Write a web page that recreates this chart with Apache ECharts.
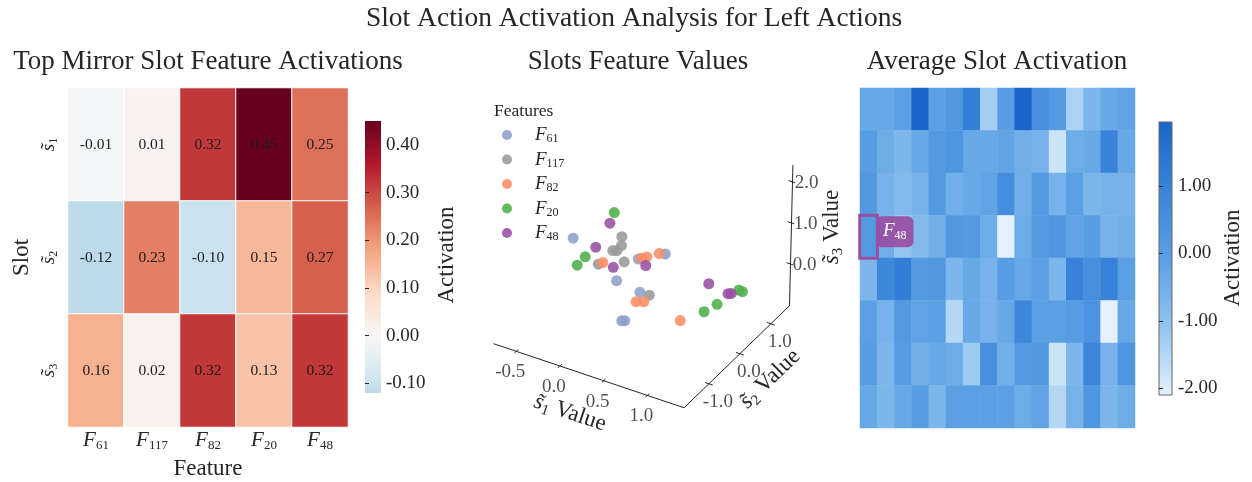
<!DOCTYPE html>
<html>
<head>
<meta charset="utf-8">
<script src="https://cdn.jsdelivr.net/npm/echarts@6/dist/echarts.min.js"></script>
<style>
  html, body { margin: 0; padding: 0; background: #fff; }
  #chart { width: 1252px; height: 482px; }
</style>
</head>
<body>
<div id="chart"></div>
<script>
// ---------- data ----------
// Mirror-slot heatmap: feature ids (shown as F subscripts) and slot indices
const featureIds = ['61', '117', '82', '20', '48'];
const slotIds = ['1', '2', '3'];
const slot1Act = [-0.01, 0.01, 0.32, 0.45, 0.25];
const slot2Act = [-0.12, 0.23, -0.10, 0.15, 0.27];
const slot3Act = [0.16, 0.02, 0.32, 0.13, 0.32];
const mirrorTicks = [-0.1, 0.0, 0.1, 0.2, 0.3, 0.4];

// Slot-space points (s1, s2, s3) per feature
const ptsF61 = [[-0.37, -0.39, 0.8], [0.19, 0.15, 0.3], [0.48, 0.19, 0.6], [0.09, -0.26, 0.0], [0.32, -0.15, -0.2], [0.31, -0.70, -0.5], [0.30, -0.57, -0.6]];
const ptsF117 = [[0.10, -0.15, 1.0], [0.07, -0.07, 0.7], [-0.03, -0.06, 0.5], [0.04, -0.13, 0.6], [-0.14, -0.21, 0.2], [0.13, -0.14, 0.4], [0.39, -0.04, -0.3]];
const ptsF82 = [[-0.15, -0.03, 0.1], [0.28, -0.01, 0.5], [0.28, 0.17, 0.4], [0.46, 0.05, 0.7], [0.30, -0.21, -0.4], [0.40, -0.25, -0.3], [0.70, 0.10, -0.8]];
const ptsF20 = [[0.00, -0.13, 1.5], [-0.28, -0.24, 0.3], [-0.31, -0.41, 0.2], [0.93, 0.21, -0.5], [1.01, 0.40, -0.4], [1.14, 0.73, -0.2], [1.15, 0.82, -0.3]];
const ptsF48 = [[-0.05, -0.12, 1.2], [-0.17, -0.22, 0.6], [-0.02, -0.06, 0.1], [0.31, 0.05, 0.3], [0.90, 0.43, 0.0], [1.08, 0.55, -0.2], [1.14, 0.48, -0.1]];
const s1Ticks = [-0.5, 0.0, 0.5, 1.0];
const s2Ticks = [-1.0, 0.0, 1.0];
const s3Ticks = [0.0, 1.0, 2.0];

// Average slot activation grid (8 rows x 16 columns)
const avgActivation = [
  [-0.3, -0.3, -0.1, 1.9, -0.1, 0.2, 1.1, -1.3, 0.0, 1.9, 0.5, 0.1, -1.4, -0.7, -0.3, -0.2],
  [0.0, -0.4, -0.7, -0.3, 0.1, 0.3, -0.3, -0.3, -0.2, -0.5, -0.6, -1.8, -0.4, -0.3, 1.0, -0.3],
  [0.2, -0.6, -0.8, -0.6, 0.1, -0.5, -0.3, -0.2, 0.6, -0.5, 0.1, -0.6, -0.1, -0.7, -0.6, -0.6],
  [0.1, -0.5, -1.1, -0.8, -0.5, 0.2, 0.1, -0.4, -2.1, -0.4, 0.1, 0.3, -0.2, 0.0, -0.6, -0.5],
  [-0.7, 0.8, 1.2, 0.1, 0.2, -0.7, -0.3, -0.6, 0.0, -0.3, -0.1, -0.7, 1.0, 0.5, 1.0, -0.1],
  [-0.1, -0.6, 0.1, -0.2, -0.1, -1.5, -0.3, -0.6, -0.3, 0.8, -0.1, -0.1, 0.0, 0.4, -2.1, -0.3],
  [0.0, -0.7, 0.0, -0.5, -0.3, -0.4, -1.2, 0.5, -0.5, 0.1, 0.2, -1.8, -0.7, 0.9, -0.6, 0.3],
  [-0.3, -0.7, -0.3, 0.0, -0.7, -0.1, -0.1, -0.1, -0.1, -0.4, -0.2, -1.5, -0.6, 0.3, -0.7, -0.4]
];
const avgTicks = [-2, -1, 0, 1];
const highlightCell = { row: 3, col: 0, feature: '48' };

// ---------- styling / layout ----------
const FONT = 'Liberation Serif';
const INK = '#262626';
const L1 = { left: 68, top: 88, width: 280, height: 339 };     // mirror heatmap
const CB1 = { left: 365, top: 121, width: 16, height: 272 };   // its colorbar
const L3 = { left: 860, top: 88, width: 275, height: 340 };    // average heatmap
const CB3 = { left: 1159, top: 122, width: 13, height: 273 };  // its colorbar
const RANGE1 = [-0.12, 0.45];
const RANGE3 = [-2.1, 1.95];
const MAIN_TITLE_SIZE = 27.5;
const TITLE_SIZE = 27;
const LABEL_SIZE = 23;

// diverging red-blue ramp (reversed), centred on zero
const RDBU_R = ['#053061', '#2166ac', '#4393c3', '#92c5de', '#d1e5f0', '#f7f7f7', '#fddbc7', '#f4a582', '#d6604d', '#b2182b', '#67001f'];
const BLUE_RAMP = ['#e4f1fc', '#93c5ef', '#5a9fe3', '#3a85da', '#1b64c9'];

function hexToRgb(h) { const n = parseInt(h.slice(1), 16); return [(n >> 16) & 255, (n >> 8) & 255, n & 255]; }
function rampColor(ramp, t) {
  t = Math.max(0, Math.min(1, t));
  const f = t * (ramp.length - 1), i = Math.min(Math.floor(f), ramp.length - 2), u = f - i;
  const a = hexToRgb(ramp[i]), b = hexToRgb(ramp[i + 1]);
  const c = a.map((v, k) => Math.round(v + (b[k] - v) * u));
  return `rgb(${c[0]},${c[1]},${c[2]})`;
}
// sample N colours evenly over [min,max]; the red-blue map is symmetric about 0 (vmax = 0.45)
const N = 40;
const redBlueColors = [], blueColors = [];
for (let i = 0; i < N; i++) {
  const v = RANGE1[0] + (RANGE1[1] - RANGE1[0]) * i / (N - 1);
  redBlueColors.push(rampColor(RDBU_R, 0.5 + v / 0.9));
  blueColors.push(rampColor(BLUE_RAMP, i / (N - 1)));
}
function gradientStops(colors) { return colors.map((c, i) => ({ offset: i / (colors.length - 1), color: c })); }

// oblique projection of slot space onto the page (axis limits and basis vectors)
const S1 = [-0.76, 1.42], S2 = [-1.8, 1.6], S3 = [-1.02, 2.41];
const P3 = { ox: 616.8, oy: 270.2, a: [87.4, 29.4], b: [31, -30], c: [1, -41] };
function proj(p) {
  return [P3.ox + P3.a[0] * p[0] + P3.b[0] * p[1] + P3.c[0] * p[2],
          P3.oy + P3.a[1] * p[0] + P3.b[1] * p[1] + P3.c[1] * p[2]];
}

// ---------- series data ----------
const mirrorRows = [slot1Act, slot2Act, slot3Act];
const mirrorData = [];
mirrorRows.forEach((row, r) => row.forEach((v, c) => mirrorData.push([c, r, v])));

const avgData = [];
let hiItem = null;
avgActivation.forEach((row, r) => row.forEach((v, c) => {
  if (r === highlightCell.row && c === highlightCell.col) {
    hiItem = {
      value: [c, r, v],
      itemStyle: { borderColor: '#9b4fa3', borderWidth: 3 },
      label: {
        show: true, position: 'right', distance: -3, offset: [0, -5],
        backgroundColor: 'rgba(152,78,163,0.92)', borderRadius: 6, padding: [4, 7, 5, 7],
        formatter: `{f|F}{n|${highlightCell.feature}}`,
        rich: {
          f: { fontFamily: FONT, fontStyle: 'italic', fontSize: 19, color: '#fff', lineHeight: 22 },
          n: { fontFamily: FONT, fontSize: 12, color: '#fff', lineHeight: 12, padding: [9, 0, 0, 0] }
        }
      }
    };
  } else avgData.push([c, r, v]);
}));
avgData.push(hiItem);

const scatterSets = [
  { name: 'F61', pts: ptsF61, color: '#8da0cb' },
  { name: 'F117', pts: ptsF117, color: '#999999' },
  { name: 'F82', pts: ptsF82, color: '#fc8d62' },
  { name: 'F20', pts: ptsF20, color: '#4daf4a' },
  { name: 'F48', pts: ptsF48, color: '#984ea3' }
];

// 3D box axes: s1 front edge, s2 right edge, s3 vertical edge
const axisPath = [proj([S1[0], S2[0], S3[0]]), proj([S1[1], S2[0], S3[0]]), proj([S1[1], S2[1], S3[0]]), proj([S1[1], S2[1], S3[1]])];
const tickSegs = [];
const tickLabels = [];
s1Ticks.forEach(t => {
  tickSegs.push({ coords: [proj([t, S2[0] - 0.06, S3[0]]), proj([t, S2[0] + 0.06, S3[0]])] });
  tickLabels.push({ value: proj([t, S2[0], S3[0]]), name: t.toFixed(1), label: { offset: [-6, 21] } });
});
s2Ticks.forEach(t => {
  tickSegs.push({ coords: [proj([S1[1] - 0.045, t, S3[0]]), proj([S1[1] + 0.045, t, S3[0]])] });
  tickLabels.push({ value: proj([S1[1], t, S3[0]]), name: t.toFixed(1), label: { offset: [9, 18] } });
});
s3Ticks.forEach(t => {
  tickSegs.push({ coords: [proj([S1[1] - 0.045, S2[1], t]), proj([S1[1] + 0.03, S2[1], t])] });
  tickLabels.push({ value: proj([S1[1], S2[1], t]), name: t.toFixed(1), label: { offset: [14, 1] } });
});

// ---------- shared text styles ----------
const subRich = (size, sub) => ({
  f: { fontFamily: FONT, fontStyle: 'italic', fontSize: size, color: INK, lineHeight: size + 4 },
  n: { fontFamily: FONT, fontSize: sub, color: INK, lineHeight: sub, padding: [Math.round(size * 0.5), 0, 0, 0] },
  v: { fontFamily: FONT, fontSize: size, color: INK, lineHeight: size + 4 }
});

function text(x, y, str, size, rot, align) {
  return {
    type: 'text', x, y, rotation: rot || 0, silent: true,
    style: { text: str, fontFamily: FONT, fontSize: size, fill: INK, align: align || 'center', verticalAlign: 'middle' }
  };
}
function richText(x, y, str, size, sub, rot) {
  return {
    type: 'text', x, y, rotation: rot || 0, silent: true,
    style: { text: str, fill: INK, align: 'center', verticalAlign: 'middle', rich: subRich(size, sub) }
  };
}
const fixedGrid = g => Object.assign({ outerBoundsMode: 'none', containLabel: false }, g);

const chart = echarts.init(document.getElementById('chart'), null, { renderer: 'canvas' });
chart.setOption({
  backgroundColor: '#fff',
  animation: false,
  textStyle: { fontFamily: FONT, color: INK },
  grid: [
    fixedGrid(L1),
    fixedGrid(CB1),
    fixedGrid({ left: 0, top: 0, width: 1252, height: 482 }),
    fixedGrid(L3),
    fixedGrid(CB3)
  ],
  xAxis: [
    {
      gridIndex: 0, type: 'category', data: featureIds,
      axisLine: { show: false }, axisTick: { show: false }, splitLine: { show: false },
      axisLabel: { interval: 0, margin: 1, formatter: v => `{f|F}{n|${v}}`, rich: subRich(21, 13) },
      name: 'Feature', nameLocation: 'middle', nameGap: 26,
      nameTextStyle: { fontFamily: FONT, fontSize: LABEL_SIZE, color: INK }
    },
    { gridIndex: 1, type: 'value', show: false, min: 0, max: 1 },
    { gridIndex: 2, type: 'value', show: false, min: 0, max: 1252 },
    { gridIndex: 3, type: 'category', data: avgActivation[0].map((_, i) => i), show: false },
    { gridIndex: 4, type: 'value', show: false, min: 0, max: 1 }
  ],
  yAxis: [
    {
      gridIndex: 0, type: 'category', data: slotIds, inverse: true,
      axisLine: { show: false }, axisTick: { show: false }, splitLine: { show: false },
      axisLabel: {
        interval: 0, rotate: 90, margin: 8, formatter: v => `{f|s\u0303}{n|${v}}`, rich: subRich(19, 12)
      },
      name: 'Slot', nameLocation: 'middle', nameGap: 35,
      nameTextStyle: { fontFamily: FONT, fontSize: LABEL_SIZE, color: INK }
    },
    {
      gridIndex: 1, type: 'value', position: 'right', min: RANGE1[0], max: RANGE1[1],
      axisLine: { show: false }, splitLine: { show: false },
      axisTick: { show: true, length: 4, customValues: mirrorTicks, lineStyle: { color: INK } },
      axisLabel: { customValues: mirrorTicks, margin: 5, fontFamily: FONT, fontSize: 19, color: INK, formatter: v => v.toFixed(2) }
    },
    { gridIndex: 2, type: 'value', show: false, min: 0, max: 482, inverse: true },
    { gridIndex: 3, type: 'category', data: avgActivation.map((_, i) => i), inverse: true, show: false },
    {
      gridIndex: 4, type: 'value', position: 'right', min: RANGE3[0], max: RANGE3[1],
      axisLine: { show: false }, splitLine: { show: false },
      axisTick: { show: true, length: 4, customValues: avgTicks, lineStyle: { color: INK } },
      axisLabel: { customValues: avgTicks, margin: 6, fontFamily: FONT, fontSize: 19, color: INK, formatter: v => v.toFixed(2) }
    }
  ],
  visualMap: [
    { type: 'continuous', show: false, seriesIndex: 0, min: RANGE1[0], max: RANGE1[1], inRange: { color: redBlueColors } },
    { type: 'continuous', show: false, seriesIndex: 1, min: RANGE3[0], max: RANGE3[1], inRange: { color: blueColors } }
  ],
  legend: {
    left: 497, top: 120, orient: 'vertical', icon: 'circle',
    itemWidth: 10, itemHeight: 10, itemGap: 4.5,
    data: scatterSets.map(s => s.name),
    formatter: name => `{f|F}{n|${name.slice(1)}}`,
    textStyle: {
      rich: {
        f: { fontFamily: FONT, fontStyle: 'italic', fontSize: 19, color: INK, lineHeight: 20, padding: [0, 0, 0, 18] },
        n: { fontFamily: FONT, fontSize: 12, color: INK, lineHeight: 12, padding: [8, 0, 0, 0] }
      }
    }
  },
  series: [
    {
      type: 'heatmap', xAxisIndex: 0, yAxisIndex: 0, data: mirrorData,
      itemStyle: { borderColor: '#fff', borderWidth: 1 },
      label: { show: true, fontFamily: FONT, fontSize: 15.5, color: '#1a1a1a', formatter: p => p.value[2].toFixed(2) },
      emphasis: { disabled: true }
    },
    {
      type: 'heatmap', xAxisIndex: 3, yAxisIndex: 3, data: avgData,
      label: { show: false }, emphasis: { disabled: true }
    },
    {
      type: 'line', xAxisIndex: 2, yAxisIndex: 2, data: axisPath, symbol: 'none', silent: true,
      lineStyle: { color: INK, width: 1 }, z: 2
    },
    {
      type: 'lines', coordinateSystem: 'cartesian2d', xAxisIndex: 2, yAxisIndex: 2, data: tickSegs, silent: true,
      lineStyle: { color: INK, width: 1, opacity: 1 }, z: 2
    },
    {
      type: 'scatter', xAxisIndex: 2, yAxisIndex: 2, data: tickLabels, symbolSize: 0, silent: true,
      label: { show: true, formatter: '{b}', fontFamily: FONT, fontSize: 19, color: INK }, z: 2
    }
  ].concat(scatterSets.map(s => ({
    type: 'scatter', name: s.name, xAxisIndex: 2, yAxisIndex: 2,
    data: s.pts.map(p => proj(p)), symbolSize: 11,
    itemStyle: { color: s.color, opacity: 0.88 }, z: 3, emphasis: { disabled: true }
  }))),
  graphic: [
    text(634, 19, 'Slot Action Activation Analysis for Left Actions', MAIN_TITLE_SIZE),
    text(208, 62, 'Top Mirror Slot Feature Activations', TITLE_SIZE),
    text(638, 62, 'Slots Feature Values', TITLE_SIZE),
    text(997, 62, 'Average Slot Activation', TITLE_SIZE),
    text(447, 255, 'Activation', LABEL_SIZE, Math.PI / 2),
    text(1233, 258, 'Activation', LABEL_SIZE, Math.PI / 2),
    text(494, 111, 'Features', 17.5, 0, 'left'),
    richText(570, 413, '{f|s\u0303}{n|1}{v| Value}', LABEL_SIZE, 15, -0.325),
    richText(770, 379, '{f|s\u0303}{n|2}{v| Value}', LABEL_SIZE, 15, 0.768),
    richText(832, 227, '{f|s\u0303}{n|3}{v| Value}', LABEL_SIZE, 15, Math.PI / 2),
    {
      type: 'rect', silent: true, z: -1,
      shape: { x: CB1.left, y: CB1.top, width: CB1.width, height: CB1.height },
      style: { fill: new echarts.graphic.LinearGradient(0, 1, 0, 0, gradientStops(redBlueColors)) }
    },
    {
      type: 'rect', silent: true, z: -1,
      shape: { x: CB3.left, y: CB3.top, width: CB3.width, height: CB3.height },
      style: { fill: new echarts.graphic.LinearGradient(0, 1, 0, 0, gradientStops(blueColors)), stroke: '#666', lineWidth: 1 }
    }
  ]
});
</script>
</body>
</html>
